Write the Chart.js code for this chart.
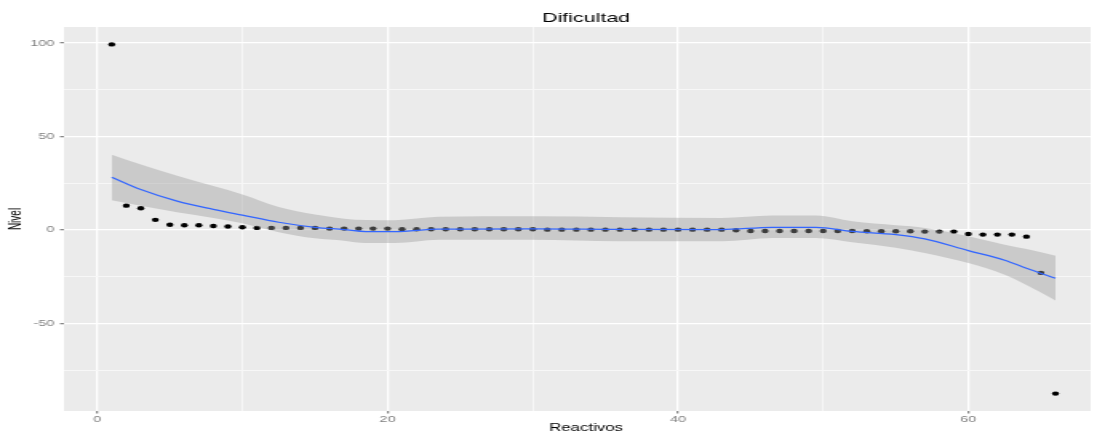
<!DOCTYPE html>
<html>
<head>
<meta charset="utf-8">
<script src="https://cdn.jsdelivr.net/npm/chart.js@4.4.1/dist/chart.umd.min.js"></script>
<style>
  html, body { margin: 0; padding: 0; background: #fff; overflow: hidden; }
</style>
</head>
<body>
<!-- the reference is stretched sideways, so the canvas is drawn narrow and widened by css -->
<canvas id="chart" width="686" height="434" style="width:1097px;height:434px;display:block"></canvas>
<script>
// item number (Reactivos) and level (Nivel) of each point
const reactivos = [1, 2, 3, 4, 5, 6, 7, 8, 9, 10, 11, 12, 13, 14, 15, 16, 17, 18, 19, 20,
  21, 22, 23, 24, 25, 26, 27, 28, 29, 30, 31, 32, 33, 34, 35, 36, 37, 38, 39, 40,
  41, 42, 43, 44, 45, 46, 47, 48, 49, 50, 51, 52, 53, 54, 55, 56, 57, 58, 59, 60,
  61, 62, 63, 64, 65, 66];
const nivel = [99.3, 13.0, 11.6, 5.4, 2.8, 2.5, 2.5, 2.1, 1.8, 1.4,
  1.1, 1.1, 1.1, 1.1, 1.1, 0.7, 0.7, 0.7, 0.7, 0.7,
  0.35, 0.35, 0.35, 0.35, 0.35, 0.35, 0.35, 0.35, 0.35, 0.35,
  0.16, 0.16, 0.16, 0.16, 0.16, 0.16, 0.16, 0.16, 0.16, 0.16, 0.16, 0.16, 0.16,
  -0.2, -0.55, -0.55, -0.55, -0.55, -0.55, -0.55, -0.55, -0.55,
  -0.7, -0.7, -0.7, -0.7, -0.9, -0.9, -0.9,
  -2.2, -2.5, -2.5, -2.5, -3.6, -23.0, -87.6];

// smoothed curve (loess) and its confidence band
const smoothX = [1, 3, 5.5, 8, 10, 12.5, 15, 17, 18.5, 20.5, 23.5, 30, 36, 43, 46.5, 49.5, 52, 55, 57, 60, 62.5, 64, 66];
const smoothFit = [28.2, 21.6, 15.4, 11.0, 7.9, 4.1, 1.4, 0.2, -0.9, -0.9, 0.4, 0.6, 0.3, 0.2, 1.4, 1.4, -0.8, -2.5, -4.8, -11.1, -16.2, -20.5, -25.9];
const smoothUpper = [40.3, 35.0, 29.0, 23.5, 19.0, 12.3, 8.2, 6.0, 5.3, 5.2, 7, 7.3, 6.8, 6.4, 7.7, 7.7, 4.6, 2.5, 1.1, -3.4, -7.9, -10.2, -13.8];
const smoothLower = [15.9, 12.9, 9.4, 6.4, 3.6, -1.2, -4.5, -5.8, -7, -7, -5.2, -5.2, -6, -6.1, -4.3, -4.3, -6.6, -9.5, -12.3, -17.7, -24, -29.5, -37.7];

const xTicks = [0, 20, 40, 60];
const yTicks = [-50, 0, 50, 100];

const toPoints = (xs, ys) => xs.map((x, i) => ({ x: x, y: ys[i] }));

const isMajorX = v => xTicks.includes(v);
const isMajorY = v => yTicks.includes(v);

// grey panel behind the grid, and the two centred titles
const panelPlugin = {
  id: "panel",
  beforeDraw(chart) {
    const { ctx, chartArea } = chart;
    ctx.save();
    ctx.fillStyle = "#EBEBEB";
    ctx.fillRect(chartArea.left, chartArea.top, chartArea.right - chartArea.left, chartArea.bottom - chartArea.top);
    ctx.restore();
  },
  afterDraw(chart) {
    const { ctx } = chart;
    const cx = 366.5;
    ctx.save();
    ctx.fillStyle = "#000";
    ctx.textAlign = "center";
    ctx.textBaseline = "middle";
    ctx.font = "13.4px 'Liberation Sans', Arial, sans-serif";
    ctx.fillText("Dificultad", cx, 18);
    ctx.font = "10.5px 'Liberation Sans', Arial, sans-serif";
    ctx.fillText("Reactivos", cx, 428.5);
    ctx.restore();
  }
};

const ctx = document.getElementById("chart").getContext("2d");
new Chart(ctx, {
  type: "line",
  data: {
    datasets: [
      {
        label: "Nivel",
        data: toPoints(reactivos, nivel),
        showLine: false,
        pointRadius: 2.2,
        pointBackgroundColor: "#000",
        pointBorderWidth: 0,
        order: 3
      },
      {
        label: "upper",
        data: toPoints(smoothX, smoothUpper),
        borderWidth: 0,
        pointRadius: 0,
        cubicInterpolationMode: "monotone",
        backgroundColor: "rgba(153,153,153,0.4)",
        fill: "+1",
        order: 2
      },
      {
        label: "lower",
        data: toPoints(smoothX, smoothLower),
        borderWidth: 0,
        pointRadius: 0,
        cubicInterpolationMode: "monotone",
        fill: false,
        order: 2
      },
      {
        label: "fit",
        data: toPoints(smoothX, smoothFit),
        borderColor: "#3366FF",
        borderWidth: 1.2,
        pointRadius: 0,
        cubicInterpolationMode: "monotone",
        fill: false,
        order: 1
      }
    ]
  },
  options: {
    responsive: false,
    devicePixelRatio: 1,
    animation: false,
    layout: { padding: { top: 27, left: 0, right: 0, bottom: 0 } },
    plugins: {
      legend: { display: false },
      tooltip: { enabled: false }
    },
    scales: {
      x: {
        type: "linear",
        min: -2.29,
        max: 68.42,
        afterFit(scale) { scale.height = 23; },
        border: { display: false },
        grid: {
          color: c => isMajorX(c.tick.value) ? "#FFFFFF" : "#F7F7F7",
          lineWidth: c => isMajorX(c.tick.value) ? 1.3 : 1,
          tickColor: c => isMajorX(c.tick.value) ? "#888888" : "rgba(0,0,0,0)",
          tickLength: 2.5
        },
        ticks: {
          stepSize: 10,
          includeBounds: false,
          padding: 1,
          maxRotation: 0,
          color: "#7F7F7F",
          font: { family: "'Liberation Sans', Arial, sans-serif", size: 9 },
          callback: v => isMajorX(v) ? String(v) : ""
        }
      },
      y: {
        min: -96.9,
        max: 108.6,
        afterFit(scale) { scale.width = 40; },
        border: { display: false },
        title: {
          display: true,
          text: "Nivel",
          color: "#000",
          font: { family: "'Liberation Sans', Arial, sans-serif", size: 10, lineHeight: 1 },
          padding: { top: 5.3, bottom: 0 }
        },
        grid: {
          color: c => isMajorY(c.tick.value) ? "#FFFFFF" : "#F7F7F7",
          lineWidth: c => isMajorY(c.tick.value) ? 1.3 : 1,
          tickColor: c => isMajorY(c.tick.value) ? "#888888" : "rgba(0,0,0,0)",
          tickLength: 2.5
        },
        ticks: {
          stepSize: 25,
          includeBounds: false,
          padding: 3.5,
          color: "#7F7F7F",
          font: { family: "'Liberation Sans', Arial, sans-serif", size: 9 },
          callback: v => isMajorY(v) ? String(v) : ""
        }
      }
    }
  },
  plugins: [panelPlugin]
});
</script>
</body>
</html>
